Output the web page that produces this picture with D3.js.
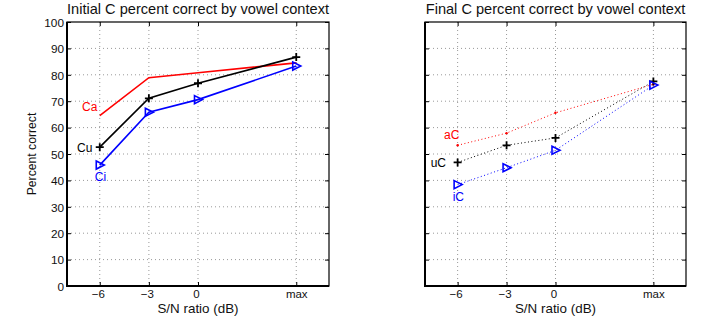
<!DOCTYPE html>
<html><head><meta charset="utf-8">
<script src="https://cdn.jsdelivr.net/npm/d3@7"></script>
<style>body{margin:0;background:#fff}svg{display:block;font-family:"Liberation Sans",Arial,sans-serif}</style>
</head><body><svg id="c" width="709" height="320"></svg>
<script>
const xPositions = [-6, -3, 0, 6];
const xTickLabels = ["\u22126", "\u22123", "0", "max"];
const yTicks = [0,10,20,30,40,50,60,70,80,90,100];
// Initial C
const initCa = [64.5, 78.9, 80.8, 84.5];
const initCu = [52.6, 71.1, 76.8, 86.7];
const initCi = [45.8, 65.8, 70.6, 83.3];
// Final C
const finalaC = [53.3, 57.9, 65.6, 76.4];
const finaluC = [46.8, 53.3, 56.1, 77.5];
const finaliC = [38.4, 44.8, 51.4, 76.1];

const svg = d3.select("#c");
const panels = [
  {left:67, right:329, title:"Initial C percent correct by vowel context", ylabel:true, dotted:false,
   series:[
     {name:"Ca", vals:initCa, color:"#ff0000", marker:"none", dx:-17.7, dy:-5},
     {name:"Cu", vals:initCu, color:"#000000", marker:"plus", dx:-22.7, dy:5.2},
     {name:"Ci", vals:initCi, color:"#0000ff", marker:"tri", dx:-5, dy:15.6}
   ]},
  {left:425, right:686, title:"Final C percent correct by vowel context", ylabel:false, dotted:true,
   series:[
     {name:"aC", vals:finalaC, color:"#ff0000", marker:"dot", dx:-13.6, dy:-6},
     {name:"uC", vals:finaluC, color:"#000000", marker:"plus", dx:-27, dy:4.3},
     {name:"iC", vals:finaliC, color:"#0000ff", marker:"tri", dx:-5, dy:16.4}
   ]}
];
const plotTop = 22, plotBottom = 286;
const y = d3.scaleLinear().domain([0,100]).range([plotBottom, plotTop]);

panels.forEach(p => {
  const x = d3.scaleLinear().domain([-8,8]).range([p.left, p.right]);
  const g = svg.append("g");
  // grid
  g.append("g").selectAll("line").data(xPositions).join("line")
    .attr("x1", d=>x(d)).attr("x2", d=>x(d)).attr("y1", plotTop).attr("y2", plotBottom)
    .attr("stroke","#999").attr("stroke-width",1).attr("stroke-dasharray","1,3");
  g.append("g").selectAll("line").data(yTicks.slice(1,-1)).join("line")
    .attr("x1", p.left).attr("x2", p.right).attr("y1", d=>y(d)).attr("y2", d=>y(d))
    .attr("stroke","#999").attr("stroke-width",1).attr("stroke-dasharray","1,3");
  // axes
  const ax = d3.axisBottom(x).tickValues(xPositions).tickFormat((d,i)=>xTickLabels[i]).tickSizeInner(-4).tickSizeOuter(0);
  const axT = d3.axisTop(x).tickValues(xPositions).tickFormat("").tickSizeInner(-4).tickSizeOuter(0);
  const ay = d3.axisLeft(y).tickValues(yTicks).tickFormat(p.ylabel ? d3.format("d") : "").tickSizeInner(-4).tickSizeOuter(0);
  const ayR = d3.axisRight(y).tickValues(yTicks).tickFormat("").tickSizeInner(-4).tickSizeOuter(0);
  const gx = g.append("g").attr("transform",`translate(0,${plotBottom})`).call(ax);
  g.append("g").attr("transform",`translate(0,${plotTop})`).call(axT);
  const gy = g.append("g").attr("transform",`translate(${p.left},0)`).call(ay);
  g.append("g").attr("transform",`translate(${p.right},0)`).call(ayR);
  g.selectAll(".domain").remove();
  g.selectAll(".tick line").attr("stroke","#000");
  g.selectAll(".tick text").attr("font-size",11.8).attr("fill","#111").attr("font-family","Liberation Sans, Arial, sans-serif");
  gx.selectAll(".tick text").attr("font-size",11.5).attr("x",d=>d===6?0:-2).attr("y",12).attr("dy",null);
  gy.selectAll(".tick text").attr("x",-3).attr("dy",null).attr("y",4.3);
  g.append("rect").attr("x",p.left).attr("y",plotTop).attr("width",p.right-p.left).attr("height",plotBottom-plotTop)
    .attr("fill","none").attr("stroke","#000").attr("stroke-width",1.2);
  g.append("line").attr("x1",p.left-1).attr("x2",p.right).attr("y1",plotBottom).attr("y2",plotBottom).attr("stroke","#000").attr("stroke-width",2);
  g.append("line").attr("x1",p.left).attr("x2",p.left).attr("y1",plotTop).attr("y2",plotBottom).attr("stroke","#000").attr("stroke-width",2);

  // title & labels
  g.append("text").attr("x",(p.left+p.right)/2).attr("y",14).attr("text-anchor","middle")
    .attr("font-size",14.6).attr("fill","#111").text(p.title);
  g.append("text").attr("x",(p.left+p.right)/2).attr("y",313).attr("text-anchor","middle")
    .attr("font-size",13.4).attr("fill","#111").text("S/N ratio (dB)");
  if (p.ylabel) {
    g.append("text").attr("transform",`translate(35.5,154) rotate(-90)`).attr("text-anchor","middle")
      .attr("font-size",12.2).attr("fill","#111").text("Percent correct");
  }
  const line = d3.line().x((d,i)=>x(xPositions[i])).y(d=>y(d));
  p.series.forEach(s => {
    g.append("path").attr("d", line(s.vals)).attr("fill","none").attr("stroke",s.color)
      .attr("stroke-width", p.dotted ? 1 : 1.6).attr("stroke-dasharray", p.dotted ? "1,2.5" : null);
    const pts = g.append("g").selectAll("g").data(s.vals).join("g")
      .attr("transform",(d,i)=>`translate(${x(xPositions[i])},${y(d)})`);
    if (s.marker === "plus") {
      pts.append("path").attr("d","M-4,0H4M0,-4V4").attr("stroke",s.color).attr("stroke-width",1.8);
    } else if (s.marker === "tri") {
      pts.append("path").attr("d","M-3.5,-4L4.5,0L-3.5,4Z").attr("fill","none").attr("stroke",s.color).attr("stroke-width",1.6);
    } else if (s.marker === "dot") {
      pts.append("circle").attr("r",1.2).attr("fill",s.color);
    }
    g.append("text").attr("x", x(xPositions[0]) + s.dx).attr("y", y(s.vals[0]) + s.dy)
      .attr("font-size",12).attr("fill",s.color).text(s.name);
  });
});
</script></body></html>
